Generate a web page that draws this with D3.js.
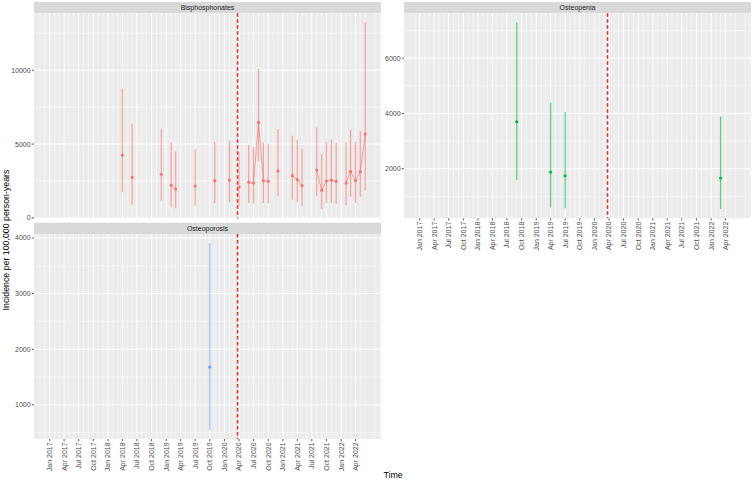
<!DOCTYPE html>
<html>
<head>
<meta charset="utf-8">
<script src="https://cdn.jsdelivr.net/npm/d3@7"></script>
<style>
body { margin: 0; background: #fff; }
svg { font-family: "Liberation Sans", Arial, sans-serif; display: block; }
</style>
</head>
<body>
<div id="chart"></div>
<script>
(function()
{
    // monthly series, months without an estimate are left out
    var bisMonths = ["2018-04","2018-06","2018-12","2019-02","2019-03","2019-07","2019-11","2020-02","2020-04","2020-06",
        "2020-07","2020-08","2020-09","2020-10","2020-12","2021-03","2021-04","2021-05","2021-08","2021-09",
        "2021-10","2021-11","2021-12","2022-02","2022-03","2022-04","2022-05","2022-06"];
    var bisRate  = [4256,2747,2950,2207,1959,2162,2522,2567,2094,2420, 2365,6463,2522,2477,3175,2860,2590,2184,3243,1869, 2500,2567,2477,2365,3153,2522,3130,5675];
    var bisLower = [1734,901,1171,721,653,833,1013,1058,788,1013, 968,3873,1013,991,1464,1239,1058,788,1464,608, 1013,1013,968,856,1419,1013,1441,1869];
    var bisUpper = [8760,6373,6058,5112,4504,4662,5157,5225,4481,4932, 4797,10089,5112,5022,6013,5562,5292,4684,6125,4324, 5157,5292,5067,5112,5968,5180,5900,13219];

    var penMonths = ["2018-09","2019-04","2019-07","2022-03"];
    var penRate  = [3697,1879,1745,1662];
    var penLower = [1590,600,564,542];
    var penUpper = [7286,4395,4048,3889];

    var porMonths = ["2019-10"];
    var porRate  = [1681];
    var porLower = [554];
    var porUpper = [3904];

    var bisTicks = [0, 5000, 10000];
    var penTicks = [2000, 4000, 6000];
    var porTicks = [1000, 2000, 3000, 4000];

    var firstMonth = "2017-01", lastMonth = "2022-06";
    var lockdown = "2020-03-23";

    var width = 753, height = 481;
    var panelW = 347, panelH = 205, stripH = 11.3;
    var fs = 7;

    var parseMonth = d3.timeParse("%Y-%m");
    var parseDay = d3.timeParse("%Y-%m-%d");
    var fmtMonth = d3.timeFormat("%Y-%m");

    var panels = [
        {name: "Bisphosphonates", months: bisMonths, rate: bisRate, lower: bisLower, upper: bisUpper, ticks: bisTicks, colour: "#F8766D", x: 34, top: 2, xAxis: false},
        {name: "Osteopenia", months: penMonths, rate: penRate, lower: penLower, upper: penUpper, ticks: penTicks, colour: "#00BA38", x: 404, top: 2, xAxis: true},
        {name: "Osteoporosis", months: porMonths, rate: porRate, lower: porLower, upper: porUpper, ticks: porTicks, colour: "#619CFF", x: 34, top: 222.7, xAxis: true}
    ];

    var t0 = parseMonth(firstMonth), t1 = parseMonth(lastMonth);
    var span = t1 - t0;
    var x = d3.scaleTime()
        .domain([new Date(+t0 - span * 0.05), new Date(+t1 + span * 0.05)])
        .range([0, panelW]);
    var allMonths = d3.timeMonth.range(t0, d3.timeMonth.offset(t1, 1));
    var xMajor = d3.timeMonth.every(3).range(t0, d3.timeMonth.offset(t1, 1));
    var xMinor = d3.timeMonth.range(d3.timeMonth.ceil(x.domain()[0]), x.domain()[1])
        .filter(function(d){ return d.getMonth() % 3 !== 0; });

    var svg = d3.select("#chart").append("svg")
        .attr("width", width)
        .attr("height", height);

    panels.forEach(function(p) {
        var lo = d3.min(p.lower), hi = d3.max(p.upper);
        var pad = (hi - lo) * 0.05;
        var y = d3.scaleLinear().domain([lo - pad, hi + pad]).range([panelH, 0]);

        var step = p.ticks[1] - p.ticks[0];
        var yMinor = [p.ticks[0] - step / 2].concat(p.ticks.map(function(d){ return d + step / 2; }))
            .filter(function(d){ return d > y.domain()[0] && d < y.domain()[1]; });

        var byMonth = {};
        p.months.forEach(function(m, i) {
            byMonth[m] = {rate: p.rate[i], lower: p.lower[i], upper: p.upper[i]};
        });
        var series = allMonths.map(function(d) {
            var r = byMonth[fmtMonth(d)];
            return {date: d, value: r ? r.rate : null};
        });

        // strip
        var g = svg.append("g").attr("transform", "translate(" + p.x + "," + p.top + ")");
        g.append("rect").attr("width", panelW).attr("height", stripH).attr("fill", "#D9D9D9");
        g.append("text").attr("x", panelW / 2).attr("y", stripH / 2).attr("dy", "0.35em")
            .attr("text-anchor", "middle").attr("font-size", fs).attr("fill", "#1A1A1A")
            .text(p.name);

        var pg = g.append("g").attr("transform", "translate(0," + stripH + ")");
        pg.append("rect").attr("width", panelW).attr("height", panelH).attr("fill", "#EBEBEB");

        // grid
        pg.selectAll(".xminor").data(xMinor).enter().append("line")
            .attr("x1", function(d){ return x(d); }).attr("x2", function(d){ return x(d); })
            .attr("y1", 0).attr("y2", panelH).attr("stroke", "#fff").attr("stroke-width", 0.5);
        pg.selectAll(".yminor").data(yMinor).enter().append("line")
            .attr("y1", function(d){ return y(d); }).attr("y2", function(d){ return y(d); })
            .attr("x1", 0).attr("x2", panelW).attr("stroke", "#fff").attr("stroke-width", 0.5);
        pg.selectAll(".xmajor").data(xMajor).enter().append("line")
            .attr("x1", function(d){ return x(d); }).attr("x2", function(d){ return x(d); })
            .attr("y1", 0).attr("y2", panelH).attr("stroke", "#fff").attr("stroke-width", 1);
        pg.selectAll(".ymajor").data(p.ticks).enter().append("line")
            .attr("y1", function(d){ return y(d); }).attr("y2", function(d){ return y(d); })
            .attr("x1", 0).attr("x2", panelW).attr("stroke", "#fff").attr("stroke-width", 1);

        // lockdown marker
        var lx = x(parseDay(lockdown));
        pg.append("line").attr("x1", lx).attr("x2", lx).attr("y1", 0).attr("y2", panelH)
            .attr("stroke", "#FF1A1A").attr("stroke-width", 1.4).attr("stroke-dasharray", "3.5,2.5");

        // error bars
        pg.selectAll(".err").data(p.months).enter().append("line")
            .attr("x1", function(d){ return x(parseMonth(d)); })
            .attr("x2", function(d){ return x(parseMonth(d)); })
            .attr("y1", function(d){ return y(byMonth[d].lower); })
            .attr("y2", function(d){ return y(byMonth[d].upper); })
            .attr("stroke", p.colour).attr("stroke-width", 1.2).attr("stroke-opacity", 0.65);

        // line, broken on missing months
        var line = d3.line()
            .defined(function(d){ return d.value !== null; })
            .x(function(d){ return x(d.date); })
            .y(function(d){ return y(d.value); });
        pg.append("path").datum(series).attr("d", line)
            .attr("fill", "none").attr("stroke", p.colour).attr("stroke-width", 0.9).attr("stroke-opacity", 0.75);

        pg.selectAll(".pt").data(p.months).enter().append("circle")
            .attr("cx", function(d){ return x(parseMonth(d)); })
            .attr("cy", function(d){ return y(byMonth[d].rate); })
            .attr("r", 1.6).attr("fill", p.colour);

        // y axis
        var ya = pg.selectAll(".ytick").data(p.ticks).enter().append("g")
            .attr("transform", function(d){ return "translate(0," + y(d) + ")"; });
        ya.append("line").attr("x1", -2.2).attr("x2", 0).attr("stroke", "#333333").attr("stroke-width", 0.8);
        ya.append("text").attr("x", -3.4).attr("dy", "0.35em").attr("text-anchor", "end")
            .attr("font-size", fs).attr("fill", "#4D4D4D").text(function(d){ return d; });

        // x axis
        if (p.xAxis) {
            var xa = pg.selectAll(".xtick").data(xMajor).enter().append("g")
                .attr("transform", function(d){ return "translate(" + x(d) + "," + panelH + ")"; });
            xa.append("line").attr("y1", 0).attr("y2", 2.2).attr("stroke", "#333333").attr("stroke-width", 0.8);
            xa.append("text").attr("transform", "translate(0,3.4) rotate(-90)")
                .attr("dy", "0.35em").attr("text-anchor", "end")
                .attr("font-size", fs).attr("fill", "#4D4D4D")
                .text(d3.timeFormat("%b %Y"));
        }
    });

    // axis titles
    svg.append("text").attr("transform", "translate(9,240) rotate(-90)")
        .attr("text-anchor", "middle").attr("font-size", 8.8).attr("fill", "#000")
        .text("Incidence per 100,000 person-years");
    svg.append("text").attr("x", 393).attr("y", 478)
        .attr("text-anchor", "middle").attr("font-size", 8.8).attr("fill", "#000")
        .text("Time");
})();
</script>
</body>
</html>
